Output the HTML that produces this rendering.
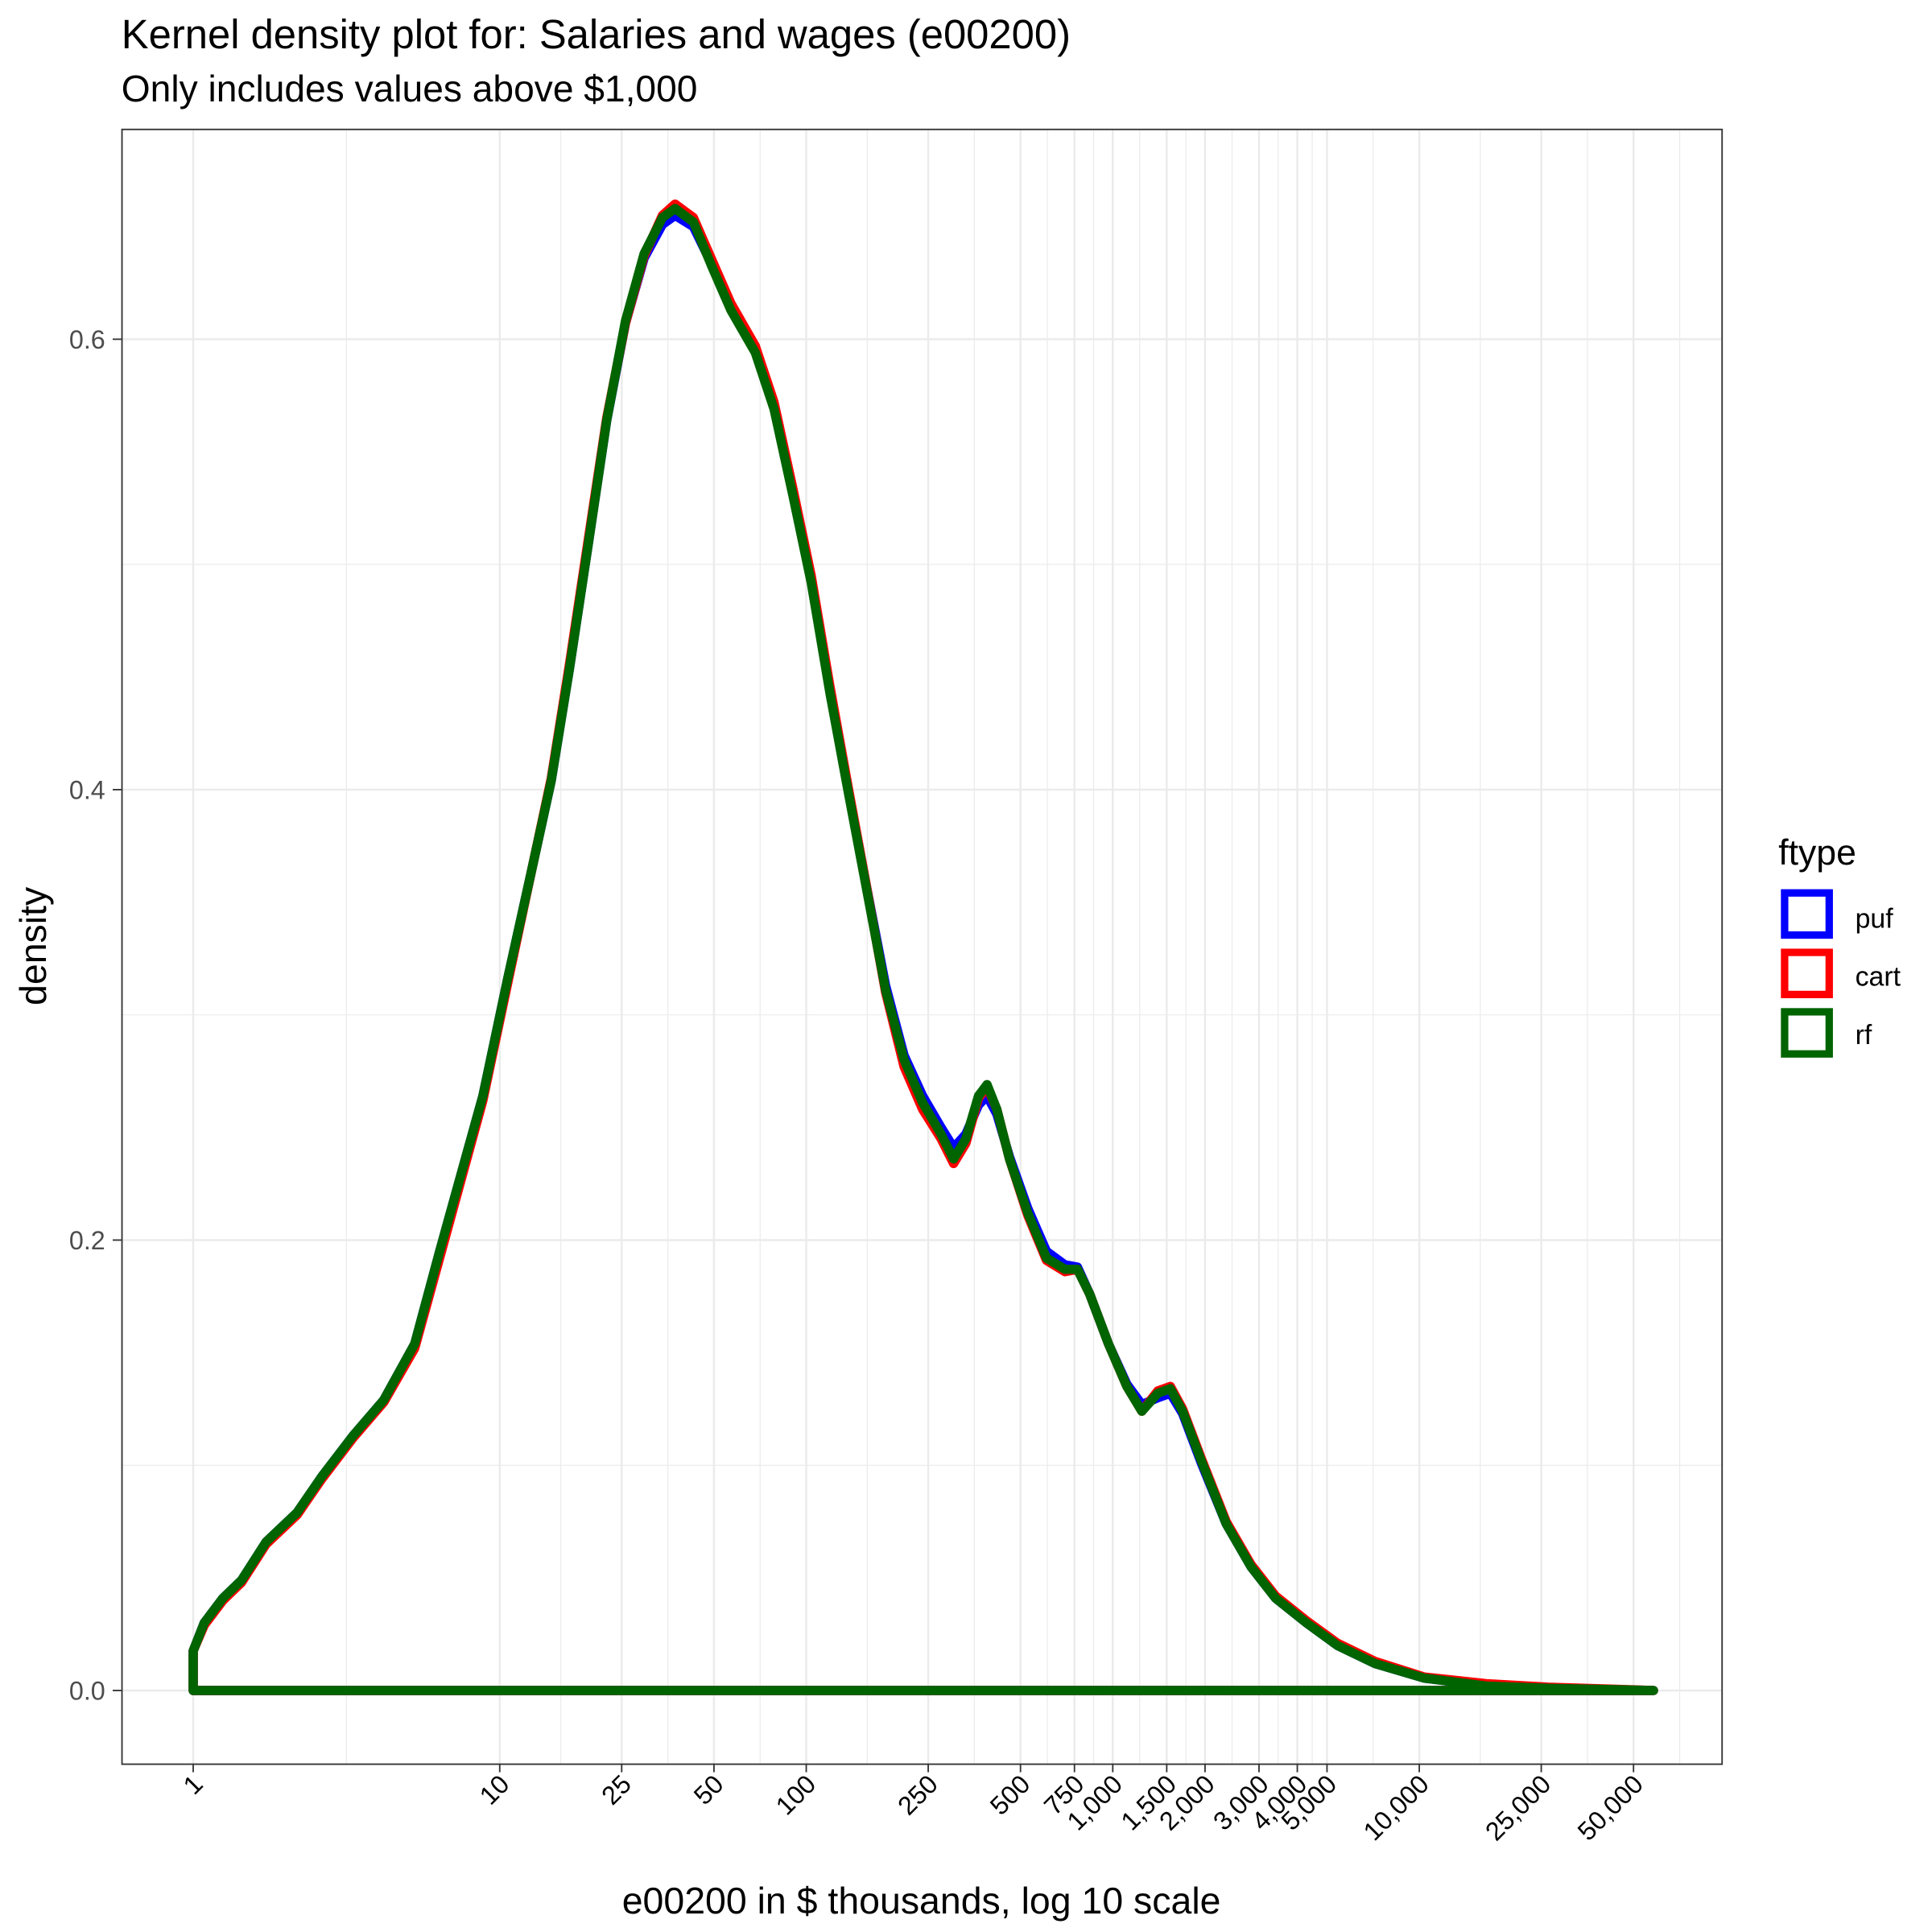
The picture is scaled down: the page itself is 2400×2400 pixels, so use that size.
<!DOCTYPE html>
<html><head><meta charset="utf-8"><style>html,body{margin:0;padding:0;background:#fff}svg{display:block}text{font-family:"Liberation Sans",Arial,sans-serif}</style></head>
<body>
<svg id="chart" width="2400" height="2400" viewBox="0 0 1560 1560" xmlns="http://www.w3.org/2000/svg">
<text x="98" y="39" font-size="33">Kernel density plot for: Salaries and wages (e00200)</text>
<text x="98" y="82" font-size="30">Only includes values above $1,000</text>
<g id="grid"></g>
<g id="series"></g>
<rect x="98.5" y="104.5" width="1292" height="1320" fill="none" stroke="#333" stroke-width="1.2"/>
<g id="axes"></g>
<text x="744" y="1545" font-size="30.2" text-anchor="middle">e00200 in $ thousands, log 10 scale</text>
<text transform="translate(37,764) rotate(-90)" font-size="30.2" text-anchor="middle">density</text>
<g>
<text x="1436" y="698" font-size="29">ftype</text>
<rect x="1441" y="721" width="36" height="34" fill="none" stroke="#0000ff" stroke-width="6"/>
<text x="1498" y="749" font-size="22">puf</text>
<rect x="1441" y="769" width="36" height="34" fill="none" stroke="#ff0000" stroke-width="6"/>
<text x="1498" y="796" font-size="22">cart</text>
<rect x="1441" y="817" width="36" height="34" fill="none" stroke="#006400" stroke-width="6"/>
<text x="1498" y="843" font-size="22">rf</text>
</g>
</svg>
<script>
const xBreaks = [1,10,25,50,100,250,500,750,1000,1500,2000,3000,4000,5000,10000,25000,50000];
const xTickLabels = ["1","10","25","50","100","250","500","750","1,000","1,500","2,000","3,000","4,000","5,000","10,000","25,000","50,000"];
const yBreaks = [0,0.2,0.4,0.6];
const yTickLabels = ["0.0","0.2","0.4","0.6"];
const logX = [0,0,0.036,0.097,0.158,0.238,0.339,0.420,0.521,0.622,0.723,0.804,0.945,1.026,1.107,1.168,1.228,1.289,1.349,1.410,1.471,1.531,1.572,1.632,1.693,1.754,1.834,1.895,1.956,2.016,2.077,2.137,2.198,2.259,2.319,2.380,2.440,2.481,2.521,2.562,2.590,2.622,2.663,2.723,2.784,2.844,2.885,2.925,2.986,3.046,3.095,3.147,3.188,3.228,3.289,3.370,3.451,3.531,3.632,3.733,3.855,4.016,4.218,4.420,4.764,4.764];
const densRf = [0,0.0176,0.030,0.041,0.049,0.066,0.079,0.095,0.113,0.129,0.154,0.195,0.264,0.316,0.366,0.404,0.454,0.509,0.564,0.608,0.638,0.654,0.658,0.652,0.632,0.613,0.594,0.569,0.531,0.492,0.443,0.399,0.355,0.311,0.280,0.261,0.247,0.236,0.245,0.264,0.269,0.258,0.236,0.212,0.192,0.187,0.187,0.176,0.154,0.135,0.124,0.132,0.134,0.124,0.102,0.074,0.055,0.041,0.030,0.020,0.012,0.0055,0.002,0.001,0,0];
const densPuf = [0,0.0176,0.030,0.041,0.049,0.066,0.079,0.095,0.113,0.129,0.154,0.195,0.264,0.316,0.366,0.404,0.454,0.509,0.564,0.607,0.636,0.651,0.655,0.650,0.633,0.615,0.596,0.570,0.532,0.493,0.444,0.400,0.356,0.313,0.282,0.264,0.250,0.241,0.247,0.260,0.264,0.256,0.237,0.214,0.195,0.189,0.188,0.176,0.154,0.136,0.127,0.130,0.132,0.123,0.101,0.074,0.055,0.041,0.030,0.020,0.012,0.0055,0.002,0.001,0,0];
const densCart = [0,0.0176,0.029,0.040,0.048,0.065,0.078,0.094,0.112,0.128,0.152,0.192,0.262,0.314,0.366,0.405,0.456,0.511,0.565,0.607,0.637,0.655,0.660,0.654,0.635,0.616,0.597,0.572,0.534,0.495,0.446,0.401,0.356,0.310,0.277,0.258,0.245,0.234,0.243,0.263,0.268,0.258,0.236,0.211,0.191,0.186,0.187,0.176,0.154,0.135,0.124,0.133,0.135,0.125,0.103,0.075,0.056,0.042,0.031,0.021,0.013,0.006,0.003,0.0015,0,0];
const NS='http://www.w3.org/2000/svg';
const X0=156, DEC=247.5, Y0=1365, YU=1818.5;
function sx(v){return X0+Math.log10(v)*DEC;}
function sxl(l){return X0+l*DEC;}
function sy(d){return Y0-d*YU;}
function mk(tag,attrs,parent){const e=document.createElementNS(NS,tag);for(const k in attrs)e.setAttribute(k,attrs[k]);parent.appendChild(e);return e;}
const grid=document.getElementById('grid'), axes=document.getElementById('axes'), series=document.getElementById('series');
const lb=xBreaks.map(v=>Math.log10(v));
const minors=[lb[0]-(lb[1]-lb[0])/2];
for(let i=0;i<lb.length-1;i++)minors.push((lb[i]+lb[i+1])/2);
minors.push(lb[lb.length-1]+(lb[lb.length-1]-lb[lb.length-2])/2);
minors.forEach(l=>{const x=sxl(l);if(x>98&&x<1390){const e=mk('line',{x1:x,x2:x,y1:104,y2:1424,stroke:'#ebebeb','stroke-width':0.8},grid);

}});
[0.1,0.3,0.5].forEach(d=>{const e=mk('line',{x1:98,x2:1390,y1:sy(d),y2:sy(d),stroke:'#ebebeb','stroke-width':0.8},grid);

});
xBreaks.forEach((v,i)=>{const x=sx(v);
const g=mk('line',{x1:x,x2:x,y1:104,y2:1424,stroke:'#ebebeb','stroke-width':1.6},grid);


const t=mk('line',{x1:x,x2:x,y1:1424,y2:1431,stroke:'#333','stroke-width':1.2},axes);


const lab=mk('text',{'font-size':21,'text-anchor':'end',transform:`translate(${x+9},${1442}) rotate(-45)`},axes);
lab.textContent=xTickLabels[i];

});
yBreaks.forEach((d,i)=>{const y=sy(d);
const g=mk('line',{x1:98,x2:1390,y1:y,y2:y,stroke:'#ebebeb','stroke-width':1.6},grid);


const t=mk('line',{x1:91,x2:98,y1:y,y2:y,stroke:'#333','stroke-width':1.2},axes);


const lab=mk('text',{x:85,y:y+7.5,'font-size':21,'text-anchor':'end',fill:'#4d4d4d'},axes);
lab.textContent=yTickLabels[i];

});
[['puf',densPuf,'#0000ff'],['cart',densCart,'#ff0000'],['rf',densRf,'#006400']].forEach(([n,arr,c])=>{
let d='';logX.forEach((l,i)=>{d+=(i?'L':'M')+sxl(l).toFixed(1)+','+sy(arr[i]).toFixed(1);});d+='Z';
const p=mk('path',{d:d,fill:'none',stroke:c,'stroke-width':7.5,'stroke-linejoin':'round','stroke-linecap':'round'},series);

});
</script>
</body></html>
